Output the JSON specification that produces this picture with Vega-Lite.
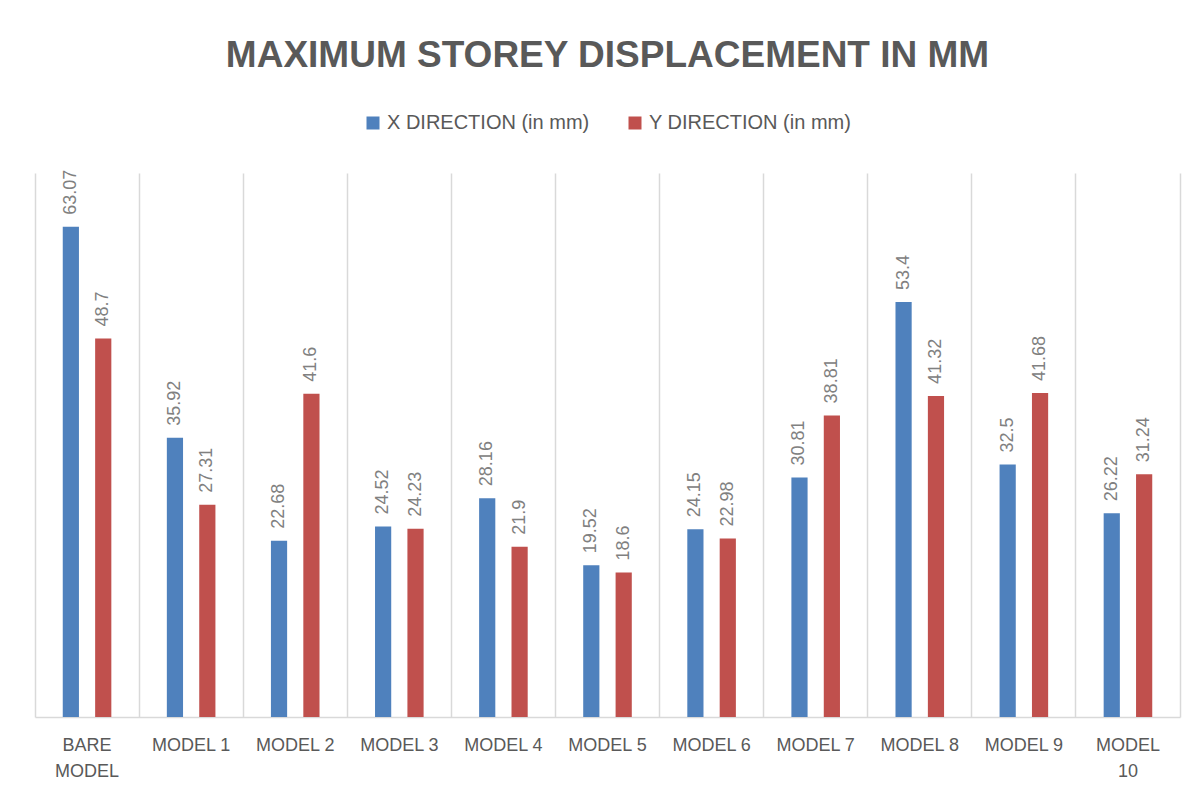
{
  "$schema": "https://vega.github.io/schema/vega-lite/v6.json",
  "width": 1145,
  "height": 544,
  "padding": {"left": 35, "top": 37, "right": 10, "bottom": 5},
  "background": "white",
  "title": {
    "text": "MAXIMUM STOREY DISPLACEMENT IN MM",
    "font": "Liberation Sans",
    "fontSize": 37,
    "fontWeight": "bold",
    "color": "#595959",
    "anchor": "middle",
    "offset": 38
  },
  "data": {
    "values": [
      {"model": "BARE MODEL", "series": "X DIRECTION (in mm)", "value": 63.07},
      {"model": "BARE MODEL", "series": "Y DIRECTION (in mm)", "value": 48.7},
      {"model": "MODEL 1", "series": "X DIRECTION (in mm)", "value": 35.92},
      {"model": "MODEL 1", "series": "Y DIRECTION (in mm)", "value": 27.31},
      {"model": "MODEL 2", "series": "X DIRECTION (in mm)", "value": 22.68},
      {"model": "MODEL 2", "series": "Y DIRECTION (in mm)", "value": 41.6},
      {"model": "MODEL 3", "series": "X DIRECTION (in mm)", "value": 24.52},
      {"model": "MODEL 3", "series": "Y DIRECTION (in mm)", "value": 24.23},
      {"model": "MODEL 4", "series": "X DIRECTION (in mm)", "value": 28.16},
      {"model": "MODEL 4", "series": "Y DIRECTION (in mm)", "value": 21.9},
      {"model": "MODEL 5", "series": "X DIRECTION (in mm)", "value": 19.52},
      {"model": "MODEL 5", "series": "Y DIRECTION (in mm)", "value": 18.6},
      {"model": "MODEL 6", "series": "X DIRECTION (in mm)", "value": 24.15},
      {"model": "MODEL 6", "series": "Y DIRECTION (in mm)", "value": 22.98},
      {"model": "MODEL 7", "series": "X DIRECTION (in mm)", "value": 30.81},
      {"model": "MODEL 7", "series": "Y DIRECTION (in mm)", "value": 38.81},
      {"model": "MODEL 8", "series": "X DIRECTION (in mm)", "value": 53.4},
      {"model": "MODEL 8", "series": "Y DIRECTION (in mm)", "value": 41.32},
      {"model": "MODEL 9", "series": "X DIRECTION (in mm)", "value": 32.5},
      {"model": "MODEL 9", "series": "Y DIRECTION (in mm)", "value": 41.68},
      {"model": "MODEL 10", "series": "X DIRECTION (in mm)", "value": 26.22},
      {"model": "MODEL 10", "series": "Y DIRECTION (in mm)", "value": 31.24}
    ]
  },
  "encoding": {
    "x": {
      "field": "model",
      "type": "nominal",
      "sort": null,
      "scale": {"paddingInner": 0, "paddingOuter": 0},
      "axis": {
        "title": null,
        "labelAngle": 0,
        "labelFont": "Liberation Sans",
        "labelFontSize": 18,
        "labelColor": "#595959",
        "labelPadding": 19,
        "labelLineHeight": 26,
        "labelBaseline": "top",
        "labelExpr": "datum.value == 'BARE MODEL' ? ['BARE', 'MODEL'] : datum.value == 'MODEL 10' ? ['MODEL', '10'] : datum.value",
        "ticks": false,
        "grid": true,
        "bandPosition": 0,
        "gridColor": "#d9d9d9",
        "gridWidth": 1.5,
        "domain": true,
        "domainColor": "#d9d9d9",
        "domainWidth": 1.5
      }
    },
    "xOffset": {
      "field": "series",
      "type": "nominal",
      "scale": {"paddingInner": 0.5, "paddingOuter": 0.857}
    },
    "y": {
      "field": "value",
      "type": "quantitative",
      "scale": {"domain": [0, 70], "nice": false},
      "axis": {
        "orient": "right",
        "title": null,
        "labels": false,
        "ticks": false,
        "grid": false,
        "domain": true,
        "domainColor": "#d9d9d9",
        "domainWidth": 1.5
      }
    }
  },
  "layer": [
    {
      "mark": {"type": "bar"},
      "encoding": {
        "color": {
          "field": "series",
          "type": "nominal",
          "scale": {"range": ["#4f81bd", "#c0504d"]},
          "legend": {
            "title": null,
            "orient": "top",
            "direction": "horizontal",
            "symbolType": "square",
            "symbolSize": 169,
            "symbolStrokeWidth": 0,
            "labelFont": "Liberation Sans",
            "labelFontSize": 20,
            "labelColor": "#595959",
            "labelLimit": 400,
            "columnPadding": 35,
            "offset": 40
          }
        }
      }
    },
    {
      "mark": {
        "type": "text",
        "angle": -90,
        "align": "left",
        "baseline": "middle",
        "dx": 12,
        "font": "Liberation Sans",
        "fontSize": 18,
        "color": "#808080"
      },
      "encoding": {
        "text": {"field": "value", "type": "nominal"}
      }
    }
  ],
  "config": {
    "view": {"stroke": null},
    "legend": {"layout": {"top": {"anchor": "middle"}}}
  }
}
